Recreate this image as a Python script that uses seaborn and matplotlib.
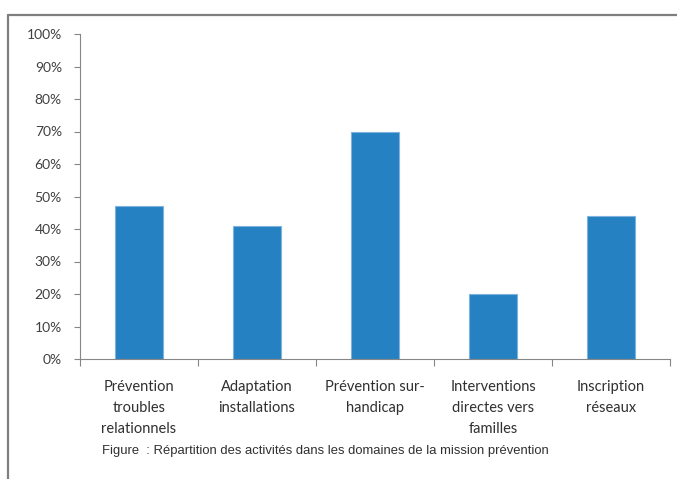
import matplotlib
matplotlib.use("Agg")
import matplotlib.pyplot as plt
from matplotlib.lines import Line2D
from matplotlib.ticker import FixedLocator, PercentFormatter
import seaborn as sns
import pandas as pd

categories = [
    "Prévention\ntroubles\nrelationnels",
    "Adaptation\ninstallations",
    "Prévention sur-\nhandicap",
    "Interventions\ndirectes vers\nfamilles",
    "Inscription\nréseaux",
]
values = [47, 41, 70, 20, 44]
y_ticks = [0, 10, 20, 30, 40, 50, 60, 70, 80, 90, 100]
caption = "Figure  : Répartition des activités dans les domaines de la mission prévention"

sns.set_theme(style="white")
plt.rcParams["font.family"] = ["Lato", "DejaVu Sans"]

W, H = 677, 479
fig = plt.figure(figsize=(W / 100, H / 100), dpi=100)
fig.patch.set_facecolor("white")

ax = fig.add_axes([80 / W, (H - 359) / H, 590 / W, 325 / H])
df = pd.DataFrame({"cat": categories, "val": values})
sns.barplot(data=df, x="cat", y="val", color="#2581c2", width=0.41,
            saturation=1, edgecolor="#7fb2dc", linewidth=0.8, ax=ax)

ax.set_xlim(-0.5, len(categories) - 0.5)
ax.set_ylim(0, 100)
ax.set_yticks(y_ticks)
ax.yaxis.set_major_formatter(PercentFormatter(decimals=0))
ax.set_xlabel("")
ax.set_ylabel("")

axis_gray = "#868686"
for side in ("top", "right"):
    ax.spines[side].set_visible(False)
for side in ("left", "bottom"):
    ax.spines[side].set_color(axis_gray)
    ax.spines[side].set_linewidth(0.8)

ax.tick_params(axis="y", which="major", direction="out", length=4, width=0.8,
               color=axis_gray, labelsize=10, labelcolor="#404040", pad=9, left=True)
ax.tick_params(axis="x", which="major", length=0, labelsize=10.5,
               labelcolor="#303030", pad=15)
ax.xaxis.set_minor_locator(FixedLocator([i - 0.5 for i in range(len(categories) + 1)]))
ax.tick_params(axis="x", which="minor", direction="out", length=5, width=0.8,
               color=axis_gray, bottom=True)
for lbl in ax.get_xticklabels():
    lbl.set_linespacing(1.64)
    lbl.set_verticalalignment("top")

fig.text(325 / W, 1 - 451 / H, caption, ha="center", va="center",
         fontsize=9.35, color="#303030",
         family=["Liberation Sans Narrow", "Liberation Sans", "DejaVu Sans"])

frame = "#7f7f7f"
fig.add_artist(Line2D([8 / W, 1.0], [1 - 15 / H, 1 - 15 / H],
                      transform=fig.transFigure, color=frame, linewidth=1.6))
fig.add_artist(Line2D([8 / W, 8 / W], [0.0, 1 - 15 / H],
                      transform=fig.transFigure, color=frame, linewidth=1.6))

fig.savefig("out.png", dpi=100, facecolor="white")
